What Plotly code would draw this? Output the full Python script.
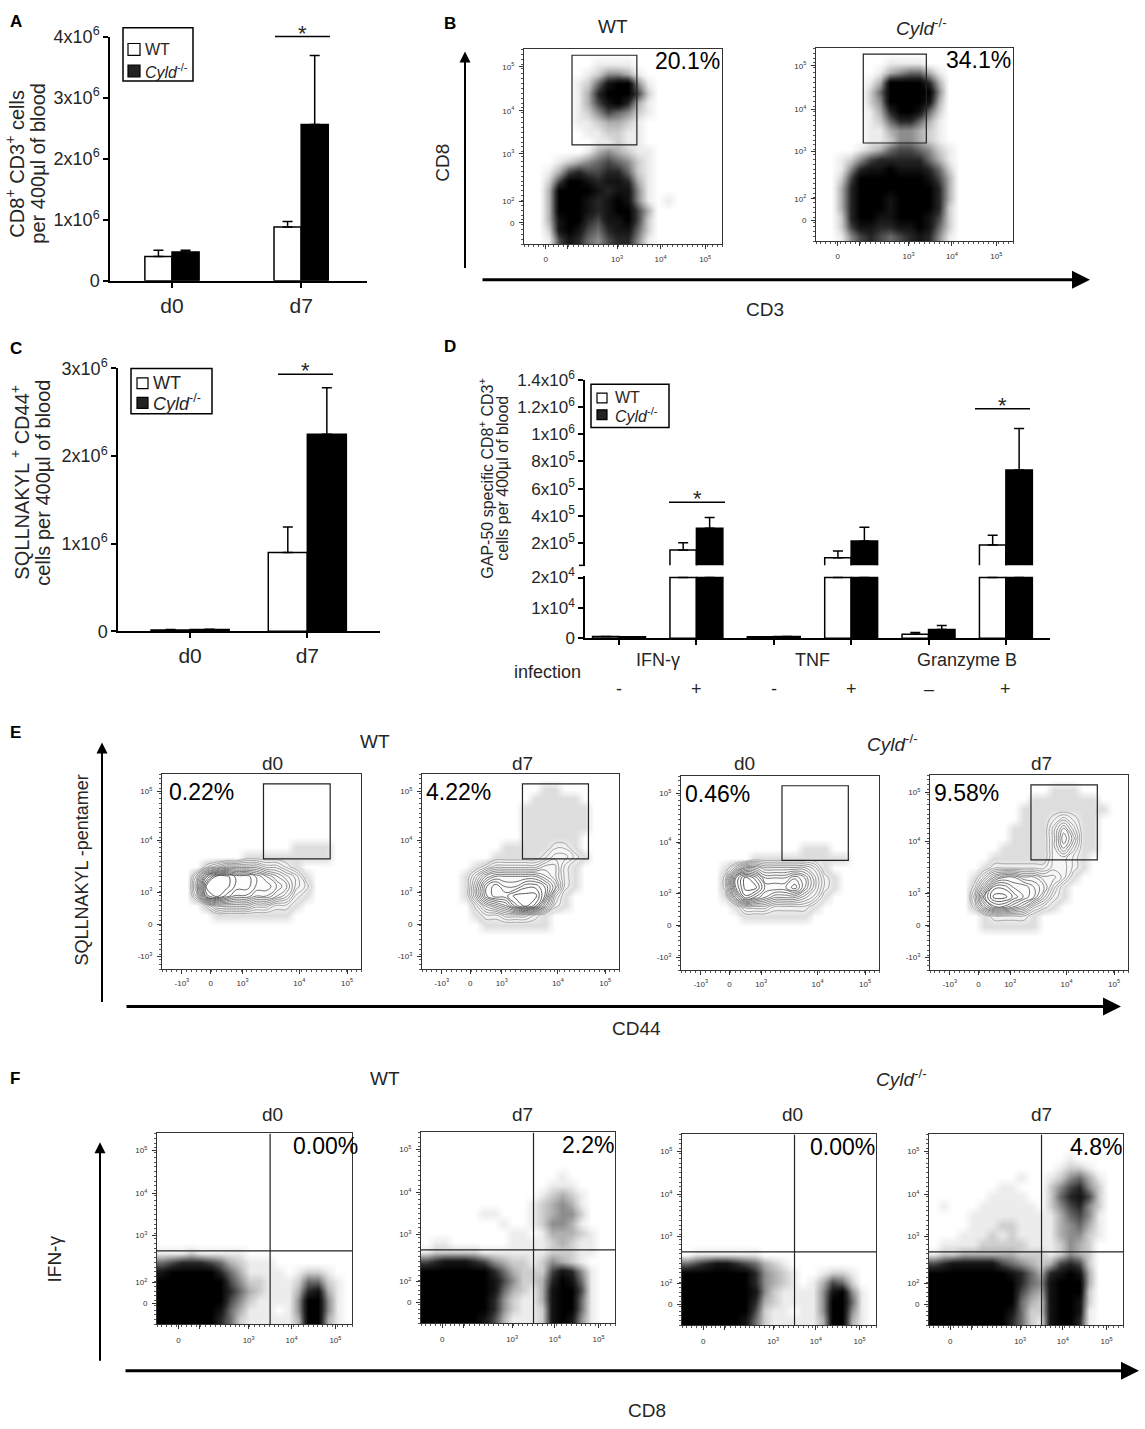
import plotly.graph_objects as go

W, H = 1145, 1429
FONT = "Liberation Sans, Arial, sans-serif"
INK = "#262626"

# ---------------- bar chart data ----------------
A_days = ["d0", "d7"]
A_wt = [0.40e6, 0.88e6]
A_wt_err = [0.10e6, 0.09e6]
A_cyld = [0.47e6, 2.56e6]
A_cyld_err = [0.03e6, 1.13e6]
A_yticks = [0, 1e6, 2e6, 3e6, 4e6]
A_ylabels = ["0", "1x10<sup>6</sup>", "2x10<sup>6</sup>", "3x10<sup>6</sup>", "4x10<sup>6</sup>"]

C_days = ["d0", "d7"]
C_wt = [0.015e6, 0.90e6]
C_wt_err = [0.005e6, 0.29e6]
C_cyld = [0.02e6, 2.25e6]
C_cyld_err = [0.005e6, 0.53e6]
C_yticks = [0, 1e6, 2e6, 3e6]
C_ylabels = ["0", "1x10<sup>6</sup>", "2x10<sup>6</sup>", "3x10<sup>6</sup>"]

D_cond = ["IFN-γ -", "IFN-γ +", "TNF -", "TNF +", "Granzyme B -", "Granzyme B +"]
D_groups = ["IFN-γ", "TNF", "Granzyme B"]
D_infection = ["-", "+", "-", "+", "–", "+"]
D_wt = [600, 1.47e5, 500, 0.90e5, 1300, 1.83e5]
D_wt_err = [None, 0.53e5, None, 0.49e5, 600, 0.73e5]
D_cyld = [500, 3.07e5, 600, 2.12e5, 2900, 7.37e5]
D_cyld_err = [None, 0.80e5, None, 1.02e5, 1300, 3.06e5]
D_break = 2e4
D_upper_start = 3.3e4
D_low_ticks = [0, 1e4, 2e4]
D_low_labels = ["0", "1x10<sup>4</sup>", "2x10<sup>4</sup>"]
D_high_ticks = [2e5, 4e5, 6e5, 8e5, 1e6, 1.2e6, 1.4e6]
D_high_labels = ["2x10<sup>5</sup>", "4x10<sup>5</sup>", "6x10<sup>5</sup>", "8x10<sup>5</sup>",
                 "1x10<sup>6</sup>", "1.2x10<sup>6</sup>", "1.4x10<sup>6</sup>"]

LEGEND_LABELS = ["WT", "<i>Cyld</i><sup>-/-</sup>"]

# ---------------- flow cytometry data ----------------
# axis units: 0..20 across each plot; density levels 0-9, rows listed top -> bottom
BF_x_ticks = [2.2, 4.4, 9.4, 13.8, 18.3]
BF_x_labels = ["0", "", "10<sup>3</sup>", "10<sup>4</sup>", "10<sup>5</sup>"]
BF_y_ticks = [2.2, 4.4, 9.3, 13.7, 18.2]
BF_y_labels = ["0", "10<sup>2</sup>", "10<sup>3</sup>", "10<sup>4</sup>", "10<sup>5</sup>"]
E_x_ticks = [2.0, 4.9, 8.1, 13.8, 18.6]
E_y_ticks = [1.3, 4.6, 7.9, 13.2, 18.2]
E_labels = ["-10<sup>3</sup>", "0", "10<sup>3</sup>", "10<sup>4</sup>", "10<sup>5</sup>"]

B_gates = [[4.85, 11.4, 10.2, 19.4], [4.8, 11.2, 10.2, 19.4]]
B_pct = ["20.1%", "34.1%"]
E_gate = [10.2, 16.9, 11.3, 19.0]
E_pct = ["0.22%", "4.22%", "0.46%", "9.58%"]
F_quadrant = [11.6, 7.7]
F_pct = ["0.00%", "2.2%", "0.00%", "4.8%"]

B_wt_density = [
    "00000000000000000000",
    "00000001111000000000",
    "00000012443100000000",
    "00000125899410000000",
    "00000137999620000000",
    "00000136897310000000",
    "00000124654210000000",
    "00000112332100000000",
    "00000011221100000000",
    "00000001121100000000",
    "00000013432110000000",
    "00012345654210000000",
    "00136766775210000000",
    "00269987887310000000",
    "00399998788410000000",
    "00399987898410100000",
    "00399987899630000000",
    "00389976889620000000",
    "00289865788520000000",
    "00168754677410000000",
]
B_cyld_density = [
    "00000000000000000000",
    "00000001111000000000",
    "00000013455310000000",
    "00000139999730000000",
    "00000259999940000000",
    "00000249999830000000",
    "00000137998520000000",
    "00000125775310000000",
    "00000113443210000000",
    "00000112443210000000",
    "00001235665421000000",
    "00124677777531000000",
    "00147889888752000000",
    "00269999999863000000",
    "00379999999973000000",
    "00379998999973000000",
    "00379998999972000000",
    "00279988999862000000",
    "00268877889852000000",
    "00146765678741000000",
]

E_wt_d0_density = [
    "00000000000000000000",
    "00000000000000000000",
    "00000000000000000000",
    "00000000000000000000",
    "00000000000000000000",
    "00000000000000000000",
    "00000000000000000000",
    "00000000000001111000",
    "00000000111111111000",
    "00002344443321000000",
    "00037998876543100000",
    "00049998877653200000",
    "00038987766542100000",
    "00002444433221000000",
    "00000111111110000000",
    "00000000000000000000",
    "00000000000000000000",
    "00000000000000000000",
    "00000000000000000000",
    "00000000000000000000",
]
E_wt_d7_density = [
    "00000000000000000000",
    "00000000000011000000",
    "00000000000111110000",
    "00000000001111111000",
    "00000000001111111000",
    "00000000001111111000",
    "00000000001111110000",
    "00000000111112210000",
    "00000001111123321000",
    "00000123333344210000",
    "00001356666654210000",
    "00001478778875210000",
    "00001478899973100000",
    "00000245689852100000",
    "00000122333210000000",
    "00000011111110000000",
    "00000000000000000000",
    "00000000000000000000",
    "00000000000000000000",
    "00000000000000000000",
]
E_cyld_d0_density = [
    "00000000000000000000",
    "00000000000000000000",
    "00000000000000000000",
    "00000000000000000000",
    "00000000000000000000",
    "00000000000000000000",
    "00000000000000000000",
    "00000000000011100000",
    "00000001111111111000",
    "00001355444443100000",
    "00002798666764210000",
    "00002799777864210000",
    "00001587655543100000",
    "00000133322221000000",
    "00000011111110000000",
    "00000000000000000000",
    "00000000000000000000",
    "00000000000000000000",
    "00000000000000000000",
    "00000000000000000000",
]
E_cyld_d7_density = [
    "00000000000000000000",
    "00000000000011100000",
    "00000000001111111000",
    "00000000011111111100",
    "00000000011123211000",
    "00000000111135311000",
    "00000000111136411000",
    "00000001111135311000",
    "00000011111133210000",
    "00000122222233210000",
    "00001356655443100000",
    "00002588776531000000",
    "00003799876421000000",
    "00002577653210000000",
    "00000122221000000000",
    "00000111111000000000",
    "00000000000000000000",
    "00000000000000000000",
    "00000000000000000000",
    "00000000000000000000",
]

F_wt_d0_density = [
    "00000000000000000000",
    "00000000000000000000",
    "00000000000000000000",
    "00000000000000000000",
    "00000000000000000000",
    "00000000000000000000",
    "00000000000000000000",
    "00000000000000000000",
    "00000000000000000000",
    "00000000000000000000",
    "00000000000000000000",
    "00000000000000000000",
    "11121111100000000000",
    "56777653211100000000",
    "89999975311110122100",
    "99999996422111255210",
    "99999997532111378310",
    "99999996421111499410",
    "99999985311101499410",
    "99999975211111399310",
]
F_wt_d7_density = [
    "00000000000000000000",
    "00000000000000000000",
    "00000000000000000000",
    "00000000000000000000",
    "00000000000000100000",
    "00000000000001110000",
    "00000000000012321000",
    "00000000000123431000",
    "00000011000123442000",
    "00000000100124431000",
    "00000000011013332100",
    "01100000011112321100",
    "12222211111112221100",
    "67888764322124321000",
    "99999997532226874100",
    "99999998642237985100",
    "99999998532138996100",
    "99999997421138995100",
    "99999997421128995100",
    "99999986311128984100",
]
F_cyld_d0_density = [
    "00000000000000000000",
    "00000000000000000000",
    "00000000000000000000",
    "00000000000000000000",
    "00000000000000000000",
    "00000000000000000000",
    "00000000000000000000",
    "00000000000000000000",
    "00000000000000000000",
    "00000000000000000000",
    "00000000000000000000",
    "00000000000000000000",
    "01111111000000000000",
    "56788765321000000000",
    "99999997432100122100",
    "99999997432101365200",
    "99999998421111489410",
    "99999997321111499510",
    "99999996211011499410",
    "99999985211111399310",
]
F_cyld_d7_density = [
    "00000000000000000000",
    "00000000000000000000",
    "00000000000000100000",
    "00000000000001221000",
    "00000000010012453100",
    "00000001100024674200",
    "00000011110025786200",
    "01000111111024674200",
    "00001111111113564100",
    "00001112211113453100",
    "00011121211113442100",
    "01111222221112432000",
    "12233333322212432000",
    "67888886543236762000",
    "99999999875378983000",
    "99999999975489993000",
    "99999999964389992000",
    "99999999953289982000",
    "99999999852289981000",
    "99999999752189971000",
]

DOT_SCALE = [[0, "#ffffff"], [0.111, "#ececec"], [0.333, "#b0b0b0"], [0.556, "#6a6a6a"],
             [0.778, "#262626"], [1, "#000000"]]
HALO_SCALE = [[0, "#ffffff"], [0.111, "#dddddd"], [0.222, "#f4f4f4"], [1, "#ffffff"]]
LINE_SCALE = [[0, "#9a9a9a"], [1, "#2e2e2e"]]


def xdom(a, b):
    return [a / W, b / W]


def ydom(top, bottom):
    return [1 - bottom / H, 1 - top / H]


def grid(rows):
    return [[int(c) for c in r.ljust(20, "0")[:20]] for r in reversed(rows)]


fig = go.Figure()
shapes = []
notes = []


def label(x, y, s, size=19, angle=0, anchor="center", color=INK):
    notes.append(dict(x=x / W, y=1 - y / H, xref="paper", yref="paper", text=s,
                      showarrow=False, textangle=angle, xanchor=anchor, yanchor="middle",
                      font=dict(size=size, family=FONT, color=color)))


def line(x0, y0, x1, y1, width=1.5):
    shapes.append(dict(type="line", xref="paper", yref="paper", x0=x0 / W, x1=x1 / W,
                       y0=1 - y0 / H, y1=1 - y1 / H, line=dict(color="black", width=width)))


def box(x0, y0, x1, y1, fill="rgba(0,0,0,0)", width=1.5):
    shapes.append(dict(type="rect", xref="paper", yref="paper", x0=x0 / W, x1=x1 / W,
                       y0=1 - y1 / H, y1=1 - y0 / H, fillcolor=fill,
                       line=dict(color="black", width=width)))


def arrow(x0, y0, x1, y1, width=2, size=1.2):
    notes.append(dict(x=x1 / W, y=1 - y1 / H, xref="paper", yref="paper",
                      ax=x0 - x1, ay=y0 - y1, axref="pixel", ayref="pixel", text="",
                      showarrow=True, arrowhead=2, arrowsize=size, arrowwidth=width,
                      arrowcolor="black"))


def legend(x0, y0, x1, y1, rows_y, sq_x, sq, txt_x, size):
    box(x0, y0, x1, y1)
    for lab, fill, yy in zip(LEGEND_LABELS, ["white", "#222"], rows_y):
        box(sq_x, yy - sq / 2, sq_x + sq, yy + sq / 2, fill=fill, width=1.2)
        label(txt_x, yy, lab, size=size, anchor="left")


def bars(xs, wt, wt_err, cyld, cyld_err, xa, ya, w):
    for vals, errs, fill, off in ((wt, wt_err, "white", -w), (cyld, cyld_err, "black", 0.0)):
        fig.add_trace(go.Bar(
            x=xs, y=vals, width=w, offset=off,
            marker=dict(color=fill, line=dict(color="black", width=1.5)),
            error_y=dict(type="data", array=errs, arrayminus=[0] * len(errs), symmetric=False,
                         color="black", thickness=1.5, width=5),
            xaxis=xa, yaxis=ya, hoverinfo="skip", showlegend=False))


AXIS = dict(showgrid=False, zeroline=False, showline=True, linecolor="black", linewidth=1.5,
            ticks="outside", tickcolor="black", tickwidth=1.5, ticklen=5)


def tf(size):
    return dict(size=size, family=FONT, color=INK)


# ---------------- A ----------------
bars(A_days, A_wt, A_wt_err, A_cyld, A_cyld_err, "x", "y", 0.21)
fig.update_layout(
    xaxis=dict(AXIS, domain=xdom(110, 367), anchor="y", type="category", range=[-0.48, 1.51],
               tickfont=tf(21)),
    yaxis=dict(AXIS, domain=ydom(25, 273), anchor="x", range=[0, 4e6], tickmode="array",
               tickvals=A_yticks, ticktext=A_ylabels, tickfont=tf(18)),
)
legend(123, 16, 193, 70, [38, 60], 128, 12, 143, 16)
line(275, 25, 330, 25)
label(302, 22, "*", size=22)
label(15, 154, "CD8<sup>+</sup> CD3<sup>+</sup> cells", size=20, angle=-90)
label(38, 154, "per 400µl of blood", size=20, angle=-90)

# ---------------- C ----------------
bars(C_days, C_wt, C_wt_err, C_cyld, C_cyld_err, "x2", "y2", 0.333)
fig.update_layout(
    xaxis2=dict(AXIS, domain=xdom(118, 380), anchor="y2", type="category", range=[-0.615, 1.62],
                tickfont=tf(21)),
    yaxis2=dict(AXIS, domain=ydom(362, 629), anchor="x2", range=[0, 3e6], tickmode="array",
                tickvals=C_yticks, ticktext=C_ylabels, tickfont=tf(18)),
)
legend(131, 362, 212, 408, [377, 397], 137, 11, 151, 18)
line(278, 368, 333, 368)
label(305, 364, "*", size=22)
label(20, 478, "SQLLNAKYL <sup>+</sup> CD44<sup>+</sup>", size=20, angle=-90)
label(43, 478, "cells per 400µl of blood", size=20, angle=-90)

# ---------------- D (broken axis) ----------------
low_wt = [min(v, D_break) for v in D_wt]
low_cy = [min(v, D_break) for v in D_cyld]
low_wt_err = [e if v < D_break else None for v, e in zip(D_wt, D_wt_err)]
low_cy_err = [e if v < D_break else None for v, e in zip(D_cyld, D_cyld_err)]
hi_wt_err = [e if v > D_upper_start else None for v, e in zip(D_wt, D_wt_err)]
hi_cy_err = [e if v > D_upper_start else None for v, e in zip(D_cyld, D_cyld_err)]
bars(D_cond, low_wt, low_wt_err, low_cy, low_cy_err, "x3", "y3", 0.342)
bars(D_cond, D_wt, hi_wt_err, D_cyld, hi_cy_err, "x3", "y4", 0.342)
fig.update_layout(
    xaxis3=dict(AXIS, domain=xdom(585, 1050), anchor="y3", type="category", range=[-0.44, 5.57],
                showticklabels=False),
    yaxis3=dict(AXIS, domain=ydom(572.8, 636), anchor="x3", range=[0, 2.05e4], tickmode="array",
                tickvals=D_low_ticks, ticktext=D_low_labels, tickfont=tf(17)),
    yaxis4=dict(AXIS, domain=ydom(374, 562), anchor="x3", range=[D_upper_start, 1.4e6],
                tickmode="array", tickvals=D_high_ticks, ticktext=D_high_labels, tickfont=tf(17)),
)
line(579, 562, 585, 562)
legend(591, 378, 669, 422, [392, 409], 597, 10, 613, 16)
line(669, 498, 725, 498)
label(697, 494, "*", size=22)
line(975, 403, 1030, 403)
label(1002, 400, "*", size=22)
label(486, 474, "GAP-50 specific CD8<sup>+</sup> CD3<sup>+</sup>", size=16, angle=-90)
label(503, 474, "cells per 400µl of blood", size=16, angle=-90)
for i, g in enumerate(D_groups):
    notes.append(dict(x=2 * i + 0.5, y=1 - 658 / H, xref="x3", yref="paper", text=g,
                      showarrow=False, font=tf(18)))
for i, s in enumerate(D_infection):
    notes.append(dict(x=i, y=1 - 688 / H, xref="x3", yref="paper", text=s,
                      showarrow=False, font=tf(18)))
label(547, 670, "infection", size=18)


# ---------------- flow plots ----------------
def flow_axes(n, pos, xt, xl, yt, yl, xstand):
    left, right, top, bottom = pos
    common = dict(range=[0, 20], showgrid=False, zeroline=False, showline=True, mirror=True,
                  linecolor="#333", linewidth=1, ticks="outside", ticklen=4, tickwidth=1,
                  tickcolor="#333", tickfont=dict(size=8, family=FONT, color="#333"),
                  tickmode="array",
                  minor=dict(ticks="outside", ticklen=2, tickwidth=0.8, tickcolor="#555",
                             tickmode="linear", tick0=0, dtick=0.5))
    fig.update_layout(**{
        f"xaxis{n}": dict(common, domain=xdom(left, right), anchor=f"y{n}", tickvals=xt,
                          ticktext=xl, ticklabelstandoff=xstand),
        f"yaxis{n}": dict(common, domain=ydom(top, bottom), anchor=f"x{n}", tickvals=yt,
                          ticktext=yl, ticklabelstandoff=3),
    })


def dots(n, rows):
    fig.add_trace(go.Heatmap(z=grid(rows), x0=0.5, dx=1, y0=0.5, dy=1, zmin=0, zmax=9,
                             colorscale=DOT_SCALE, zsmooth="best", showscale=False,
                             hoverinfo="skip", xaxis=f"x{n}", yaxis=f"y{n}"))


def contours(n, rows):
    z = grid(rows)
    fig.add_trace(go.Heatmap(z=z, x0=0.5, dx=1, y0=0.5, dy=1, zmin=0, zmax=9,
                             colorscale=HALO_SCALE, zsmooth="best", showscale=False,
                             hoverinfo="skip", xaxis=f"x{n}", yaxis=f"y{n}"))
    fig.add_trace(go.Contour(z=z, x0=0.5, dx=1, y0=0.5, dy=1,
                             contours=dict(start=1.6, end=9, size=0.55, coloring="lines"),
                             colorscale=LINE_SCALE, line=dict(width=0.8, smoothing=1.3),
                             showscale=False, hoverinfo="skip", xaxis=f"x{n}", yaxis=f"y{n}"))


def gate(n, g):
    shapes.append(dict(type="rect", xref=f"x{n}", yref=f"y{n}", x0=g[0], x1=g[1], y0=g[2],
                       y1=g[3], line=dict(color="#222", width=1.2)))


def pct(n, x, y, s, anchor, shift=0):
    notes.append(dict(x=x, y=y, xref=f"x{n}", yref=f"y{n}", text=s, showarrow=False,
                      xanchor=anchor, yanchor="middle", xshift=shift,
                      font=dict(size=23, family=FONT, color="black")))


# B
B_pos = [(524, 722, 38, 236), (816, 1013, 37, 233)]
for k, (rows, n) in enumerate(zip([B_wt_density, B_cyld_density], [5, 6])):
    flow_axes(n, B_pos[k], BF_x_ticks, BF_x_labels, BF_y_ticks, BF_y_labels, 3)
    dots(n, rows)
    gate(n, B_gates[k])
    pct(n, 20, 18.8, B_pct[k], "right")
label(442, 12, "<b>B</b>", size=17, anchor="left", color="black")
label(613, 15, "WT")
label(921, 15, "<i>Cyld</i><sup>-/-</sup>")
arrow(465, 258, 465, 40, width=2, size=1.1)
arrow(481, 272, 1090, 272, width=3, size=1.2)
label(443, 153, "CD8", angle=-90)
label(765, 302, "CD3")

# E
E_pos = [(162, 361, 774, 972), (422, 619, 774, 972), (681, 879, 776, 973), (930, 1128, 775, 973)]
E_rows = [E_wt_d0_density, E_wt_d7_density, E_cyld_d0_density, E_cyld_d7_density]
for k, rows in enumerate(E_rows):
    n = 7 + k
    flow_axes(n, E_pos[k], E_x_ticks, E_labels, E_y_ticks, E_labels, 2)
    contours(n, rows)
    gate(n, E_gate)
    pct(n, 0.5 if k == 0 else 0.2, 18.2, E_pct[k], "left")
label(8, 732, "<b>E</b>", size=17, anchor="left", color="black")
label(375, 741, "WT")
label(892, 742, "<i>Cyld</i><sup>-/-</sup>")
for x, s in zip([272, 522, 744, 1041], ["d0", "d7", "d0", "d7"]):
    label(x, 763, s)
arrow(102, 1003, 102, 742, width=2, size=1.1)
arrow(125, 1010, 1121, 1010, width=3, size=1.2)
label(82, 872, "SQLLNAKYL -pentamer", size=18, angle=-90)
label(636, 1032, "CD44")

# F
F_pos = [(157, 352, 1139, 1333), (421, 615, 1138, 1332), (682, 876, 1140, 1334), (929, 1123, 1140, 1334)]
F_rows = [F_wt_d0_density, F_wt_d7_density, F_cyld_d0_density, F_cyld_d7_density]
for k, rows in enumerate(F_rows):
    n = 11 + k
    flow_axes(n, F_pos[k], BF_x_ticks, BF_x_labels, BF_y_ticks, BF_y_labels, 4)
    dots(n, rows)
    qx, qy = F_quadrant
    shapes.append(dict(type="line", xref=f"x{n}", yref=f"y{n}", x0=qx, x1=qx, y0=0, y1=20,
                       line=dict(color="#222", width=1.2)))
    shapes.append(dict(type="line", xref=f"x{n}", yref=f"y{n}", x0=0, x1=20, y0=qy, y1=qy,
                       line=dict(color="#222", width=1.2)))
    pct(n, 20, 18.7, F_pct[k], "right", shift=8 if k == 0 else 1)
label(8, 1083, "<b>F</b>", size=17, anchor="left", color="black")
label(385, 1083, "WT")
label(901, 1083, "<i>Cyld</i><sup>-/-</sup>")
for x, s in zip([272, 522, 792, 1041], ["d0", "d7", "d0", "d7"]):
    label(x, 1120, s)
arrow(100, 1368, 100, 1148, width=2, size=1.1)
arrow(124, 1380, 1139, 1380, width=3, size=1.2)
label(54, 1267, "IFN-γ", angle=-90)
label(647, 1420, "CD8")

label(8, 10, "<b>A</b>", size=17, anchor="left", color="black")
label(8, 342, "<b>C</b>", size=17, anchor="left", color="black")
label(442, 340, "<b>D</b>", size=17, anchor="left", color="black")

fig.update_layout(
    width=W, height=H, margin=dict(l=0, r=0, t=0, b=0),
    paper_bgcolor="white", plot_bgcolor="rgba(0,0,0,0)",
    barmode="overlay", showlegend=False,
    font=dict(family=FONT, color=INK),
    shapes=shapes, annotations=notes,
)

fig.write_html("out.html", config={"displayModeBar": False},
               post_script="document.body.style.margin='0';")
